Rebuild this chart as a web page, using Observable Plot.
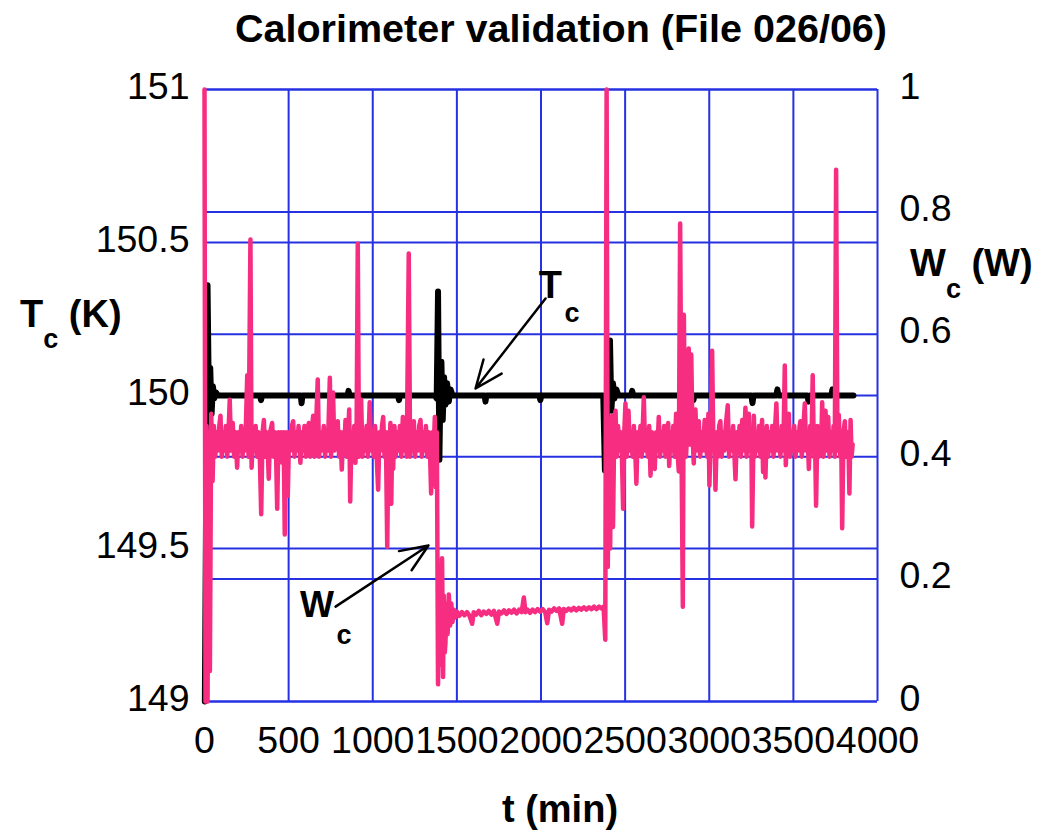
<!DOCTYPE html>
<html>
<head>
<meta charset="utf-8">
<script src="https://cdn.jsdelivr.net/npm/d3@7"></script>
<script src="https://cdn.jsdelivr.net/npm/@observablehq/plot@0.6"></script>
<style>
  html, body { margin: 0; padding: 0; background: #fff; }
  #chart svg { display: block; }
</style>
</head>
<body>
<div id="chart"></div>
<script>
// ---- data ----
const xTicks = [0, 500, 1000, 1500, 2000, 2500, 3000, 3500, 4000];
const tcTicks = [149, 149.5, 150, 150.5, 151];
const wcTicks = [0, 0.2, 0.4, 0.6, 0.8, 1];

// Tc (K) vs t (min)
const tcMinutes = [2, 18, 26, 34, 42, 50, 58, 68, 80, 330, 336, 342, 572, 577, 582, 850, 856, 862, 1150, 1156, 1162,
  1370, 1380, 1388, 1396, 1402, 1408, 1416, 1424, 1432, 1442, 1452, 1462, 1475, 1665, 1670, 1675, 1990, 1996, 2002,
  2370, 2380, 2392, 2410, 2418, 2428, 2436, 2448, 2460, 2536, 2542, 2548, 2900, 2906, 2912, 3251, 3257, 3263,
  3399, 3405, 3411, 3584, 3590, 3596, 3726, 3732, 3738, 3857];
const tcKelvin = [149.0, 150.36, 149.98, 150.09, 149.94, 150.03, 149.99, 150.01, 150.0, 150.0, 149.985, 150.0, 150.0, 149.975, 150.0,
  150.0, 150.015, 150.0, 150.0, 149.985, 150.0,
  150.0, 149.99, 150.34, 149.79, 150.02, 150.11, 149.92, 150.06, 149.97, 150.04, 149.98, 150.02, 150.0, 150.0, 149.98, 150.0,
  150.0, 149.985, 150.0,
  150.0, 149.755, 149.96, 150.18, 149.95, 150.04, 149.99, 150.02, 150.0, 150.0, 150.015, 150.0, 150.0, 149.985, 150.0,
  150.0, 149.975, 150.0, 150.0, 150.02, 150.0, 150.0, 149.98, 150.0, 150.0, 150.02, 150.0, 150.0];

// Wc (W) vs t (min)
const wcMinutes = [0, 6, 12, 18, 26, 32, 40, 48, 56, 64, 72, 80, 88, 95, 103, 111, 119, 127, 135, 143, 150, 158, 168, 176, 184,
  194, 202, 210, 218, 226, 234, 242, 254, 262, 273, 280, 288, 296, 304, 312, 320, 328, 337, 345, 353, 361, 369, 376, 382,
  390, 402, 410, 418, 425, 432, 440, 448, 455, 462, 470, 477, 485, 495, 503, 511, 519, 527, 535, 543, 551, 559, 570, 578,
  586, 594, 602, 610, 620, 628, 636, 646, 654, 662, 673, 681, 689, 697, 709, 717, 725, 733, 745, 752, 764, 772, 780, 792,
  800, 808, 816, 824, 830, 838, 846, 854, 860, 866, 874, 882, 890, 897, 904, 911, 918, 925, 931, 939, 947, 955, 963, 971,
  982, 990, 998, 1006, 1014, 1022, 1032, 1040, 1048, 1055, 1062, 1070, 1078, 1086, 1094, 1100, 1105, 1110, 1116, 1121,
  1129, 1137, 1145, 1153, 1161, 1170, 1179, 1186, 1194, 1202, 1214, 1222, 1230, 1237, 1244, 1252, 1260, 1268, 1276, 1284,
  1292, 1300, 1308, 1316, 1324, 1332, 1340, 1347, 1355, 1362, 1369, 1375, 1381, 1388,
  1395, 1402, 1408, 1412, 1418, 1422, 1428, 1432, 1438, 1445, 1452, 1460, 1467, 1474, 1482, 1490, 1500, 1515, 1530, 1545,
  1560, 1575, 1591, 1600, 1615, 1630, 1645, 1660, 1675, 1690, 1705, 1720, 1740, 1750, 1765, 1780, 1795, 1810, 1825, 1840,
  1855, 1870, 1885, 1898, 1908, 1920, 1935, 1950, 1965, 1980, 1995, 2010, 2025, 2037, 2048, 2063, 2078, 2093, 2108, 2126,
  2135, 2150, 2165, 2180, 2195, 2210, 2225, 2240, 2255, 2270, 2285, 2300, 2315, 2330, 2345, 2360, 2372, 2382,
  2390, 2397, 2404, 2411, 2417, 2423, 2428, 2435, 2443, 2450, 2458, 2466, 2474, 2481, 2488, 2495, 2502, 2510, 2520, 2528,
  2536, 2544, 2552, 2560, 2567, 2575, 2583, 2591, 2599, 2611, 2619, 2627, 2635, 2643, 2651, 2659, 2667, 2676, 2684, 2692,
  2700, 2708, 2716, 2724, 2732, 2740, 2748, 2756, 2762, 2770, 2778, 2786, 2794, 2803, 2811, 2819, 2827, 2835, 2843, 2849,
  2856, 2862, 2870, 2878, 2886, 2893, 2900, 2908, 2918, 2926, 2932, 2938, 2946, 2954, 2962, 2973, 2980, 2988, 2995, 3001,
  3009, 3017, 3025, 3031, 3037, 3045, 3052, 3059, 3066, 3074, 3082, 3090, 3098, 3110, 3118, 3126, 3134, 3142, 3150, 3156,
  3164, 3172, 3180, 3188, 3196, 3204, 3215, 3222, 3228, 3235, 3242, 3250, 3255, 3265, 3272, 3280, 3288, 3296, 3304, 3314,
  3320, 3327, 3334, 3342, 3350, 3358, 3366, 3374, 3382, 3390, 3399, 3407, 3415, 3423, 3431, 3440, 3449, 3455, 3463, 3473,
  3481, 3489, 3497, 3505, 3513, 3521, 3529, 3537, 3542, 3550, 3558, 3568, 3576, 3584, 3592, 3600, 3607, 3615, 3622, 3628,
  3635, 3643, 3651, 3659, 3665, 3671, 3679, 3685, 3691, 3699, 3707, 3715, 3723, 3731, 3739, 3746, 3754, 3762, 3770, 3778,
  3784, 3790, 3798, 3806, 3814, 3822, 3828, 3833, 3840, 3846, 3852];
const wcWatts = [1.00, 0.00, 0.45, 0.00, 0.44, 0.05, 0.47, 0.36, 0.45, 0.40, 0.44, 0.41, 0.45, 0.467, 0.40, 0.44, 0.41, 0.45, 0.40, 0.44, 0.493, 0.41, 0.455, 0.40, 0.44,
  0.382, 0.44, 0.41, 0.45, 0.40, 0.44, 0.41, 0.533, 0.40, 0.755, 0.382, 0.44, 0.41, 0.45, 0.40, 0.44, 0.41, 0.306, 0.44, 0.46, 0.40, 0.44, 0.41, 0.364,
  0.44, 0.455, 0.40, 0.44, 0.41, 0.315, 0.44, 0.40, 0.44, 0.39, 0.44, 0.273, 0.44, 0.336, 0.44, 0.41, 0.45, 0.458, 0.40, 0.44, 0.41, 0.45, 0.39, 0.44,
  0.41, 0.45, 0.40, 0.44, 0.455, 0.40, 0.44, 0.467, 0.40, 0.44, 0.526, 0.40, 0.44, 0.41, 0.45, 0.40, 0.44, 0.41, 0.529, 0.40, 0.505, 0.41, 0.44, 0.458,
  0.40, 0.44, 0.379, 0.44, 0.41, 0.46, 0.40, 0.44, 0.477, 0.327, 0.44, 0.41, 0.45, 0.39, 0.44, 0.748, 0.40, 0.45, 0.493, 0.40, 0.44, 0.41, 0.45, 0.40,
  0.489, 0.41, 0.44, 0.40, 0.45, 0.41, 0.346, 0.44, 0.41, 0.45, 0.465, 0.40, 0.44, 0.253, 0.44, 0.41, 0.455, 0.323, 0.44, 0.38,
  0.45, 0.40, 0.44, 0.41, 0.45, 0.40, 0.465, 0.41, 0.44, 0.40, 0.732, 0.40, 0.44, 0.41, 0.458, 0.40, 0.44, 0.41, 0.45, 0.46,
  0.40, 0.44, 0.41, 0.45, 0.40, 0.44, 0.41, 0.34, 0.44, 0.41, 0.465, 0.35, 0.44, 0.028,
  0.20, 0.06, 0.16, 0.234, 0.04, 0.173, 0.08, 0.095, 0.16, 0.11, 0.175, 0.124, 0.16, 0.13, 0.150, 0.137, 0.147, 0.140, 0.146, 0.141,
  0.146, 0.140, 0.127, 0.146, 0.142, 0.148, 0.141, 0.147, 0.143, 0.148, 0.142, 0.148, 0.127, 0.147, 0.144, 0.149, 0.143, 0.149, 0.145, 0.150,
  0.144, 0.150, 0.146, 0.170, 0.146, 0.150, 0.145, 0.150, 0.146, 0.151, 0.147, 0.151, 0.146, 0.128, 0.150, 0.147, 0.152, 0.148, 0.152, 0.127,
  0.151, 0.148, 0.152, 0.149, 0.153, 0.149, 0.153, 0.150, 0.154, 0.150, 0.154, 0.151, 0.155, 0.151, 0.155, 0.152, 0.155, 0.101,
  1.00, 0.22, 0.46, 0.25, 0.44, 0.467, 0.285, 0.44, 0.475, 0.40, 0.45, 0.41, 0.44, 0.40, 0.315, 0.44, 0.487, 0.40, 0.475, 0.41,
  0.44, 0.40, 0.45, 0.41, 0.356, 0.44, 0.41, 0.45, 0.40, 0.497, 0.41, 0.44, 0.40, 0.45, 0.369, 0.44, 0.41, 0.38, 0.44, 0.41,
  0.465, 0.40, 0.44, 0.41, 0.45, 0.40, 0.44, 0.455, 0.385, 0.44, 0.41, 0.45, 0.40, 0.47, 0.41, 0.376, 0.781, 0.42, 0.155, 0.632,
  0.44, 0.40, 0.45, 0.577, 0.42, 0.567, 0.44, 0.389, 0.477, 0.41, 0.45, 0.458, 0.40, 0.44, 0.41, 0.46, 0.42, 0.40, 0.47, 0.353,
  0.44, 0.573, 0.41, 0.44, 0.346, 0.44, 0.40, 0.45, 0.458, 0.40, 0.44, 0.41, 0.45, 0.484, 0.40, 0.44, 0.41, 0.45, 0.40, 0.363,
  0.44, 0.41, 0.45, 0.40, 0.46, 0.41, 0.48, 0.40, 0.44, 0.47, 0.41, 0.44, 0.286, 0.467, 0.40, 0.44, 0.41, 0.45, 0.40, 0.46,
  0.375, 0.44, 0.366, 0.45, 0.40, 0.44, 0.41, 0.45, 0.40, 0.44, 0.487, 0.41, 0.44, 0.40, 0.45, 0.41, 0.549, 0.386, 0.44, 0.47,
  0.40, 0.44, 0.41, 0.45, 0.40, 0.44, 0.41, 0.45, 0.458, 0.40, 0.44, 0.487, 0.41, 0.44, 0.38, 0.45, 0.41, 0.533, 0.40, 0.44,
  0.32, 0.45, 0.40, 0.44, 0.41, 0.489, 0.40, 0.44, 0.475, 0.41, 0.465, 0.40, 0.44, 0.41, 0.45, 0.40, 0.869, 0.41, 0.468, 0.40,
  0.44, 0.283, 0.44, 0.458, 0.40, 0.44, 0.41, 0.34, 0.46, 0.40, 0.42];

// annotation labels (data coordinates; Wc drawn on the Tc scale as 149 + 2*Wc)
const tcNote = {t: 2056, k: 150.36, sub: {t: 2184, k: 150.268}, arrow: {t1: 2027, k1: 150.317, t2: 1611, k2: 150.023}};
const wcNote = {t: 669, k: 149.314, sub: {t: 829, k: 149.217}, arrow: {t1: 779, k1: 149.31, t2: 1331, k2: 149.51}};

// ---- build tables ----
const tcData = tcMinutes.map((t, i) => ({t, v: tcKelvin[i]}));
const wcData = wcMinutes.map((t, i) => ({t, v: wcWatts[i]}));
const toTcScale = w => 149 + 2 * w;

const gridColor = "#2632e2";
const font = "'Liberation Sans', Arial, Helvetica, sans-serif";

const plot = Plot.plot({
  width: 1039,
  height: 834,
  marginLeft: 204,
  marginRight: 162,
  marginTop: 89,
  marginBottom: 133,
  style: {fontFamily: font, background: "#fff", color: "#000", overflow: "visible"},
  x: {domain: [0, 4000]},
  y: {domain: [149, 151]},
  marks: [
    Plot.ruleX(xTicks, {stroke: gridColor, strokeWidth: 2}),
    Plot.ruleY(tcTicks, {stroke: gridColor, strokeWidth: 2}),
    Plot.ruleY(wcTicks.map(toTcScale), {stroke: gridColor, strokeWidth: 2}),
    Plot.line(tcData, {x: "t", y: "v", stroke: "#000", strokeWidth: 6}),
    Plot.line(wcData, {x: "t", y: d => toTcScale(d.v), stroke: "#f62d80", strokeWidth: 4.5}),
    Plot.axisX(xTicks, {tickSize: 0, tickPadding: 25, fontSize: 37.5, tickFormat: d => String(d), label: null}),
    Plot.axisY(tcTicks, {anchor: "left", tickSize: 0, tickPadding: 15, dy: -3, fontSize: 37.5, tickFormat: d => String(d), label: null}),
    Plot.axisY(wcTicks.map(toTcScale), {anchor: "right", tickSize: 0, tickPadding: 22, dy: -3, fontSize: 37.5,
      tickFormat: d => String(+((d - 149) / 2).toFixed(2)), label: null}),
    // annotations
    Plot.text([tcNote], {x: "t", y: "k", text: () => "T", fontSize: 38, fontWeight: "bold", lineAnchor: "middle"}),
    Plot.text([tcNote.sub], {x: "t", y: "k", text: () => "c", fontSize: 27, fontWeight: "bold", lineAnchor: "middle"}),
    Plot.arrow([tcNote.arrow], {x1: "t1", y1: "k1", x2: "t2", y2: "k2", stroke: "#000", strokeWidth: 2.5, headLength: 18, headAngle: 45}),
    Plot.text([wcNote], {x: "t", y: "k", text: () => "W", fontSize: 36, fontWeight: "bold", lineAnchor: "middle"}),
    Plot.text([wcNote.sub], {x: "t", y: "k", text: () => "c", fontSize: 27, fontWeight: "bold", lineAnchor: "middle"}),
    Plot.arrow([wcNote.arrow], {x1: "t1", y1: "k1", x2: "t2", y2: "k2", stroke: "#000", strokeWidth: 2.5, headLength: 18, headAngle: 45})
  ]
});

const svg = d3.select(plot);
svg.append("text")
  .attr("x", 561).attr("y", 42)
  .attr("text-anchor", "middle")
  .attr("font-family", font).attr("font-weight", "bold").attr("font-size", 39.5)
  .attr("fill", "#000")
  .text("Calorimeter validation (File 026/06)");

svg.append("text")
  .attr("x", 560).attr("y", 822)
  .attr("text-anchor", "middle")
  .attr("font-family", font).attr("font-weight", "bold").attr("font-size", 38)
  .attr("fill", "#000")
  .text("t (min)");

function subLabel(x, y, main, sub, rest, dySub) {
  const t = svg.append("text")
    .attr("x", x).attr("y", y)
    .attr("text-anchor", "start")
    .attr("font-family", font).attr("font-weight", "bold").attr("font-size", 38)
    .attr("fill", "#000");
  t.append("tspan").text(main);
  t.append("tspan").attr("dy", dySub).attr("font-size", 27).text(sub);
  t.append("tspan").attr("dy", -dySub).attr("font-size", 38).text(rest);
}
subLabel(20, 327, "T", "c", " (K)", 21);
subLabel(910, 276, "W", "c", " (W)", 22);

document.getElementById("chart").appendChild(plot);
</script>
</body>
</html>
